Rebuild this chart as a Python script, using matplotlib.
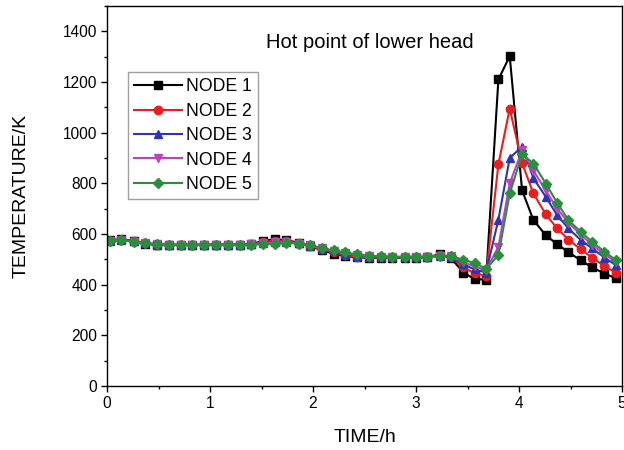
import matplotlib
matplotlib.use("Agg")
import matplotlib.pyplot as plt
from matplotlib.ticker import MultipleLocator

plt.rcParams["font.family"] = ["Liberation Sans", "DejaVu Sans"]

# time axis (h)
time_h = [0.03, 0.14, 0.26, 0.37, 0.49, 0.60, 0.72, 0.83, 0.94, 1.06,
          1.17, 1.29, 1.40, 1.51, 1.63, 1.74, 1.86, 1.97, 2.09, 2.20,
          2.31, 2.43, 2.54, 2.66, 2.77, 2.89, 3.00, 3.11, 3.23, 3.34,
          3.46, 3.57, 3.68, 3.80, 3.91, 4.03, 4.14, 4.26, 4.37, 4.48,
          4.60, 4.71, 4.83, 4.94]

node1 = [575, 580, 572, 562, 556, 556, 557, 557, 557, 558,
         558, 558, 560, 572, 580, 575, 566, 552, 536, 522,
         513, 508, 506, 506, 506, 506, 507, 508, 520, 505,
         448, 422, 420, 1210, 1302, 772, 655, 595, 560, 528,
         496, 468, 444, 425]
node2 = [574, 578, 571, 563, 557, 557, 557, 557, 557, 558,
         558, 558, 559, 568, 574, 572, 564, 553, 539, 527,
         517, 511, 508, 508, 508, 508, 508, 509, 516, 508,
         468, 445, 435, 875, 1095, 880, 760, 678, 622, 578,
         539, 507, 473, 447]
node3 = [573, 577, 571, 564, 558, 558, 558, 558, 558, 558,
         558, 558, 559, 565, 570, 569, 563, 554, 541, 531,
         521, 515, 511, 510, 509, 509, 509, 510, 514, 510,
         480, 460, 448, 657, 900, 945, 820, 747, 674, 622,
         576, 543, 507, 477]
node4 = [573, 576, 570, 564, 559, 558, 558, 558, 558, 558,
         558, 558, 559, 563, 567, 567, 562, 555, 543, 533,
         524, 517, 513, 511, 510, 510, 510, 511, 513, 512,
         488, 472, 456, 550, 800, 930, 850, 772, 700, 645,
         597, 557, 520, 490]
node5 = [572, 575, 570, 565, 560, 558, 558, 558, 558, 558,
         557, 558, 558, 560, 562, 566, 562, 556, 545, 535,
         527, 520, 514, 512, 510, 510, 510, 510, 512, 515,
         497, 486, 462, 517, 760, 915, 878, 799, 723, 655,
         608, 569, 530, 497]

series = [
    ("NODE 1", node1, "#000000", "s"),
    ("NODE 2", node2, "#ee1c1c", "o"),
    ("NODE 3", node3, "#2b35b5", "^"),
    ("NODE 4", node4, "#c13fc4", "v"),
    ("NODE 5", node5, "#2a8f3a", "D"),
]

fig = plt.figure(figsize=(6.24, 4.5), dpi=100)
ax = fig.add_axes([107 / 624, 64 / 450, 515 / 624, 380 / 450])

for name, vals, color, marker in series:
    ms = 6 if marker != "D" else 5.2
    ax.plot(time_h, vals, color=color, marker=marker, markersize=ms,
            linewidth=1.5, markeredgecolor=color, markerfacecolor=color,
            label=name)

ax.set_xlim(0, 5)
ax.set_ylim(0, 1500)
ax.set_xticks([0, 1, 2, 3, 4, 5])
ax.set_yticks([0, 200, 400, 600, 800, 1000, 1200, 1400])
ax.xaxis.set_minor_locator(MultipleLocator(0.5))
ax.yaxis.set_minor_locator(MultipleLocator(100))
ax.tick_params(which="major", direction="out", length=4, width=1,
               labelsize=11.2, pad=3)
ax.tick_params(which="minor", direction="out", length=2.5, width=1)
for sp in ax.spines.values():
    sp.set_linewidth(1.0)

ax.set_xlabel("TIME/h", fontsize=14, labelpad=13)
ax.set_ylabel("TEMPERATURE/K", fontsize=14, labelpad=24)
ax.text(0.51, 0.905, "Hot point of lower head", transform=ax.transAxes,
        ha="center", va="center", fontsize=14.5)

leg = ax.legend(loc="upper left", bbox_to_anchor=(0.041, 0.826),
                fontsize=12.7, frameon=True, fancybox=False,
                handlelength=2.7, handletextpad=0.25, labelspacing=0.42,
                borderpad=0.35, borderaxespad=0.0)
leg.get_frame().set_edgecolor("#888888")
leg.get_frame().set_linewidth(1.0)

fig.savefig("out.png", dpi=100)
